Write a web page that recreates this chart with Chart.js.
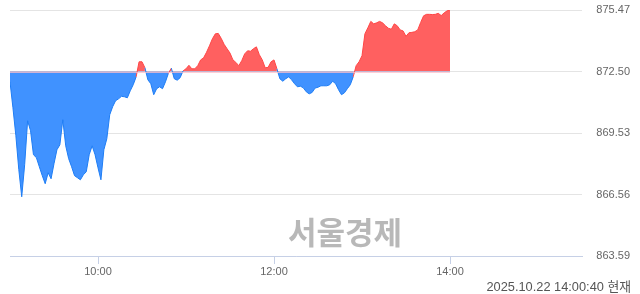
<!DOCTYPE html>
<html>
<head>
<meta charset="utf-8">
<script src="https://cdn.jsdelivr.net/npm/chart.js@4"></script>
<style>
  html, body { margin: 0; padding: 0; background: #fff; }
  #wrap { position: relative; width: 640px; height: 294px; overflow: hidden; }
  #c { position: absolute; left: 0; top: 0; }
  #wm { position: absolute; left: 288px; top: 214px; font-family: "Noto Sans CJK KR", sans-serif; font-weight: 700; font-size: 31px; line-height: 33px; color: #b8b8b8; }
  #stamp { position: absolute; right: 9px; top: 279px; font-family: "Liberation Sans", "Noto Sans CJK KR", sans-serif; font-size: 12.8px; line-height: 15px; color: #555; white-space: nowrap; }
</style>
</head>
<body>
<div id="wrap">
  <canvas id="c" width="640" height="294"></canvas>
  <div id="wm">서울경제</div>
  <div id="stamp">2025.10.22 14:00:40 현재</div>
</div>
<script>
// ---- data (intraday index, 09:00 to 14:00, every 2 minutes) ----
const startMinute = 0;          // 09:00
const stepMinutes = 2;
const prevClose = 872.50;
const values = [
  872.00, 870.75, 869.40, 867.76, 866.45, 868.00, 870.12, 869.64, 868.48, 868.34,
  867.90, 867.47, 867.08, 867.61, 867.32, 868.05, 868.72, 868.96, 870.17, 868.91,
  868.29, 867.90, 867.47, 867.37, 867.27, 867.51, 867.66, 868.48, 868.91, 868.48,
  867.85, 867.27, 868.72, 869.25, 870.41, 870.80, 871.09, 871.18, 871.30, 871.28,
  871.23, 871.57, 871.86, 872.24, 872.97, 872.97, 872.68, 872.10, 871.91, 871.38,
  871.67, 871.76, 871.67, 872.00, 872.41, 872.66, 872.15, 872.08, 872.20, 872.53,
  872.63, 872.80, 872.63, 872.63, 872.78, 873.06, 873.16, 873.43, 873.74, 874.08,
  874.32, 874.34, 874.10, 873.81, 873.60, 873.39, 873.06, 872.94, 872.78, 873.02,
  873.35, 873.50, 873.48, 873.60, 873.69, 873.31, 873.06, 872.68, 872.70, 872.97,
  873.06, 872.63, 872.15, 872.03, 872.15, 872.24, 872.10, 871.91, 871.76, 871.79,
  871.71, 871.52, 871.42, 871.49, 871.70, 871.74, 871.81, 871.81, 871.81, 871.86,
  872.03, 871.91, 871.62, 871.38, 871.47, 871.67, 871.86, 872.24, 872.78, 872.97,
  873.26, 874.32, 874.61, 874.92, 874.80, 874.85, 874.92, 874.85, 874.71, 874.59,
  874.54, 874.80, 874.71, 874.51, 874.46, 874.20, 874.37, 874.39, 874.42, 874.51,
  874.87, 875.19, 875.26, 875.26, 875.25, 875.26, 875.31, 875.20, 875.33, 875.43,
  875.47
];
const yTicks = [863.59, 866.56, 869.53, 872.50, 875.47];
const xTickMinutes = [60, 180, 300];
const xTickLabels = ['10:00', '12:00', '14:00'];
const sessionMinutes = 390;     // 09:00 - 15:30

const RED_LINE = 'rgb(255,70,70)', RED_FILL = 'rgb(255,96,96)';
const BLUE_LINE = 'rgb(30,125,245)', BLUE_FILL = 'rgb(64,146,255)';

const points = values.map((v, i) => ({ x: startMinute + i * stepMinutes, y: v }));

const baseLine = {
  id: 'baseLine',
  afterDatasetsDraw(chart) {
    const { ctx, scales } = chart;
    const y = Math.round(scales.y.getPixelForValue(prevClose)) + 0.5;
    const x0 = scales.x.getPixelForValue(points[0].x);
    const x1 = scales.x.getPixelForValue(points[points.length - 1].x);
    ctx.save();
    ctx.strokeStyle = 'rgba(255,190,200,0.75)';
    ctx.lineWidth = 1;
    ctx.beginPath(); ctx.moveTo(x0, y); ctx.lineTo(x1, y); ctx.stroke();
    ctx.restore();
  }
};

new Chart(document.getElementById('c'), {
  type: 'line',
  data: {
    datasets: [{
      data: points,
      borderWidth: 1,
      pointRadius: 0,
      tension: 0,
      borderColor: BLUE_LINE,
      segment: {
        borderColor: ctx => ((ctx.p0.parsed.y + ctx.p1.parsed.y) / 2 >= prevClose ? RED_LINE : BLUE_LINE)
      },
      fill: { target: { value: prevClose }, above: RED_FILL, below: BLUE_FILL }
    }]
  },
  options: {
    responsive: false,
    devicePixelRatio: 1,
    animation: false,
    layout: { padding: { left: 10, right: 10, top: 10, bottom: 0 } },
    plugins: { legend: { display: false }, tooltip: { enabled: false } },
    scales: {
      x: {
        type: 'linear',
        min: 0,
        max: sessionMinutes,
        afterBuildTicks: s => { s.ticks = xTickMinutes.map(v => ({ value: v })); },
        afterFit: s => { s.height = 38; },
        ticks: {
          autoSkip: false, maxRotation: 0, padding: 1,
          color: '#666', font: { family: 'Liberation Sans', size: 11 },
          callback: v => xTickLabels[xTickMinutes.indexOf(v)]
        },
        grid: { drawOnChartArea: false, drawTicks: true, tickLength: 8, tickColor: '#c6d0e6' },
        border: { color: '#c6d0e6', width: 1 }
      },
      y: {
        position: 'right',
        min: yTicks[0],
        max: yTicks[yTicks.length - 1],
        afterBuildTicks: s => { s.ticks = yTicks.map(v => ({ value: v })); },
        afterFit: s => { s.width = 48; },
        ticks: {
          crossAlign: 'far', padding: 0,
          color: '#666', font: { family: 'Liberation Sans', size: 11 },
          callback: v => v.toFixed(2)
        },
        grid: { color: '#e4e4e4', drawTicks: false },
        border: { display: false }
      }
    }
  },
  plugins: [baseLine]
});
</script>
</body>
</html>
